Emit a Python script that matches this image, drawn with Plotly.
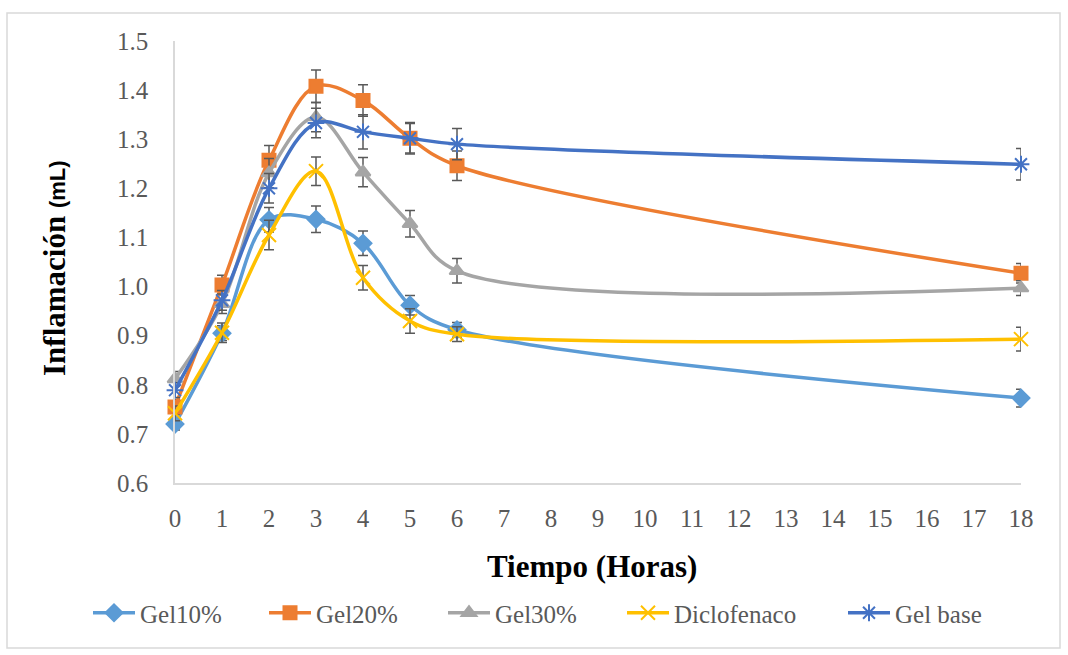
import plotly.graph_objects as go

horas = [0, 1, 2, 3, 4, 5, 6, 18]

gel10 = [0.72, 0.905, 1.136, 1.137, 1.088, 0.962, 0.912, 0.773]
gel10_err = [0.012, 0.015, 0.025, 0.027, 0.025, 0.02, 0.015, 0.018]

gel20 = [0.755, 1.003, 1.257, 1.408, 1.379, 1.302, 1.246, 1.027]
gel20_err = [0.015, 0.02, 0.03, 0.033, 0.032, 0.032, 0.03, 0.02]

gel30 = [0.812, 0.965, 1.231, 1.345, 1.233, 1.128, 1.032, 0.997]
gel30_err = [0.015, 0.02, 0.03, 0.03, 0.03, 0.027, 0.025, 0.015]

diclofenaco = [0.742, 0.906, 1.105, 1.235, 1.018, 0.93, 0.903, 0.893]
diclofenaco_err = [0.015, 0.02, 0.03, 0.029, 0.025, 0.025, 0.015, 0.024]

gel_base = [0.789, 0.972, 1.2, 1.333, 1.315, 1.302, 1.29, 1.249]
gel_base_err = [0.015, 0.02, 0.03, 0.03, 0.035, 0.03, 0.032, 0.032]

x_ticks = list(range(0, 19))
y_ticks = [0.6, 0.7, 0.8, 0.9, 1.0, 1.1, 1.2, 1.3, 1.4, 1.5]

series = [
    ("Gel10%", gel10, gel10_err, "#5B9BD5", "diamond", 13),
    ("Gel20%", gel20, gel20_err, "#ED7D31", "square", 13),
    ("Gel30%", gel30, gel30_err, "#A5A5A5", "triangle-up", 13),
    ("Diclofenaco", diclofenaco, diclofenaco_err, "#FFC000", "x-thin-open", 14),
    ("Gel base", gel_base, gel_base_err, "#4472C4", "asterisk-open", 14),
]

# legend entry left edges (px) in the reference layout
legend_px = [82, 258, 437, 616, 837]

FONT = "Liberation Serif"
L, R, T, B = 175, 47, 41, 172
PW = 1068 - L - R
PH = 655 - T - B


def px_x(p):
    return (p - L) / PW


def px_y(p):
    return (655 - B - p) / PH


fig = go.Figure()
legend_layouts = {}
for i, (name, vals, errs, color, sym, size) in enumerate(series):
    lname = "legend" if i == 0 else f"legend{i + 1}"
    fig.add_trace(go.Scatter(
        x=horas, y=vals, name=name, mode="lines+markers",
        line=dict(color=color, width=3.5, shape="spline", smoothing=1.0),
        marker=dict(symbol=sym, size=size, color=color,
                    line=dict(color=color, width=2)),
        error_y=dict(type="data", array=errs, visible=True,
                     color="#595959", thickness=1.5, width=5),
        cliponaxis=False,
        legend=lname,
    ))
    legend_layouts[lname] = dict(
        orientation="h", x=px_x(legend_px[i] + 6), xanchor="left",
        y=px_y(613), yanchor="middle", bgcolor="rgba(0,0,0,0)",
        font=dict(family=FONT, size=25, color="#595959"),
        itemwidth=42,
    )

fig.update_layout(
    width=1068, height=655,
    margin=dict(l=L, r=R, t=T, b=B),
    paper_bgcolor="white", plot_bgcolor="white",
    font=dict(family=FONT, color="#595959", size=25),
    showlegend=True,
    xaxis=dict(range=[0, 18], tickmode="array", tickvals=x_ticks,
               ticktext=[str(v) for v in x_ticks],
               showgrid=False, zeroline=False, showline=True, linecolor="#D9D9D9",
               linewidth=1.5, ticks="", ticklabelstandoff=12,
               tickfont=dict(family=FONT, size=25, color="#595959")),
    yaxis=dict(range=[0.6, 1.5], tickmode="array", tickvals=y_ticks,
               ticktext=[f"{v:.1f}" for v in y_ticks],
               showgrid=False, zeroline=False, showline=True, linecolor="#D9D9D9",
               linewidth=1.5, ticks="", ticklabelstandoff=20,
               tickfont=dict(family=FONT, size=25, color="#595959")),
    annotations=[
        dict(text="<b>Tiempo (Horas)</b>", xref="paper", yref="paper",
             x=px_x(592), y=px_y(566), xanchor="center", yanchor="middle",
             showarrow=False, font=dict(family=FONT, size=31, color="black")),
        dict(text="<b>Inflamación <span style='font-family:Liberation Sans;font-size:22px'>(mL)</span></b>",
             xref="paper", yref="paper", textangle=-90,
             x=px_x(54), y=px_y(268), xanchor="center", yanchor="middle",
             showarrow=False, font=dict(family=FONT, size=31, color="black")),
    ],
    shapes=[dict(type="rect", xref="paper", yref="paper",
                 x0=px_x(7), x1=px_x(1060), y0=px_y(648), y1=px_y(13),
                 line=dict(color="#D9D9D9", width=1.5), layer="below")],
    **legend_layouts,
)

fig.write_html("out.html")
